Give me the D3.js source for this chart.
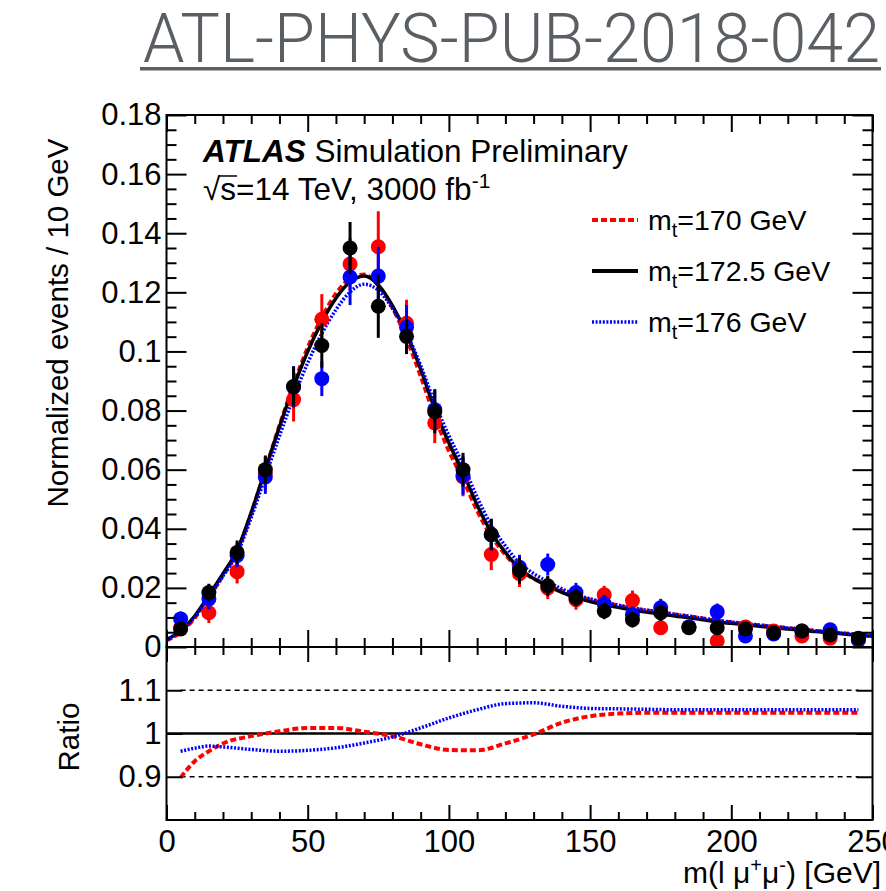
<!DOCTYPE html>
<html>
<head>
<meta charset="utf-8">
<script src="https://cdn.jsdelivr.net/npm/d3@7"></script>
<style>
  html, body { margin: 0; padding: 0; background: #fff; }
  svg text { font-family: "Liberation Sans", Arial, Helvetica, sans-serif; }
</style>
</head>
<body>
<div id="chart"></div>
<script>
// bin centres of the m(l mu+ mu-) histograms
const binCentres = [5, 15, 25, 35, 45, 55, 65, 75, 85, 95, 105, 115, 125, 135, 145, 155, 165, 175, 185, 195, 205, 215, 225, 235, 245];

// mt = 170 GeV
const red = [0.0065, 0.0116, 0.0255, 0.0588, 0.0837, 0.1109, 0.1296, 0.1354, 0.1095, 0.0758, 0.0575, 0.0313, 0.0248, 0.0200, 0.0160, 0.0177, 0.0157, 0.0065, 0.0068, 0.0020, 0.0068, 0.0054, 0.0037, 0.0030, 0.0024];
const redErr = [0.002, 0.0035, 0.004, 0.0055, 0.0074, 0.0085, 0.0088, 0.012, 0.008, 0.0068, 0.0065, 0.0053, 0.0045, 0.0038, 0.0034, 0.003, 0.0034, 0.0022, 0.0022, 0.0015, 0.0022, 0.002, 0.0018, 0.0016, 0.0014];
// mt = 172.5 GeV
const black = [0.0061, 0.0184, 0.0320, 0.0600, 0.0881, 0.1020, 0.1350, 0.1153, 0.1051, 0.0796, 0.0600, 0.0381, 0.0259, 0.0207, 0.0167, 0.0122, 0.0092, 0.0116, 0.0065, 0.0065, 0.0061, 0.0048, 0.0054, 0.0041, 0.0030];
const blackErr = [0.002, 0.003, 0.004, 0.0048, 0.0068, 0.0075, 0.0088, 0.0107, 0.006, 0.0073, 0.0057, 0.0053, 0.0045, 0.0034, 0.003, 0.0028, 0.0026, 0.0028, 0.0022, 0.0022, 0.0022, 0.002, 0.002, 0.0018, 0.0016];
// mt = 176 GeV
const blue = [0.0095, 0.0163, 0.0310, 0.0575, 0.0880, 0.0908, 0.1252, 0.1255, 0.1082, 0.0803, 0.0580, 0.0380, 0.0270, 0.0279, 0.0184, 0.0146, 0.0109, 0.0133, 0.0068, 0.0119, 0.0037, 0.0044, 0.0054, 0.0058, 0.0024];
const blueErr = [0.0025, 0.0035, 0.004, 0.0057, 0.007, 0.0059, 0.0095, 0.0098, 0.0075, 0.007, 0.0065, 0.0053, 0.0042, 0.0037, 0.0033, 0.003, 0.0028, 0.003, 0.002, 0.0028, 0.0016, 0.0018, 0.0022, 0.0022, 0.0014];

// fitted template for mt = 172.5 GeV
const fitX = [0, 5, 10, 15, 20, 25, 30, 35, 40, 45, 50, 55, 60, 65, 70, 75, 80, 85, 90, 95, 100, 105, 110, 115, 120, 125, 130, 135, 140, 145, 150, 155, 160, 165, 170, 175, 180, 185, 190, 195, 200, 205, 210, 215, 220, 225, 230, 235, 240, 245, 250];
const fitBlack = [0.0025, 0.0055, 0.0105, 0.0175, 0.0248, 0.0327, 0.0455, 0.0600, 0.0745, 0.0880, 0.1000, 0.1100, 0.1180, 0.1235, 0.1255, 0.1225, 0.1155, 0.1060, 0.0940, 0.0805, 0.0690, 0.0590, 0.0480, 0.0388, 0.0320, 0.0265, 0.0232, 0.0207, 0.0185, 0.0167, 0.0154, 0.0143, 0.0134, 0.0125, 0.0118, 0.0112, 0.0105, 0.0099, 0.0092, 0.0085, 0.0080, 0.0075, 0.0070, 0.0066, 0.0061, 0.0057, 0.0052, 0.0048, 0.0044, 0.0040, 0.0037];

// template ratios to mt = 172.5 GeV
const ratioX = [5, 10, 15, 20, 30, 40, 50, 60, 70, 80, 90, 100, 110, 120, 130, 140, 150, 160, 170, 180, 200, 220, 245];
const ratioRed = [0.898, 0.936, 0.959, 0.977, 0.994, 1.005, 1.013, 1.013, 1.004, 0.994, 0.975, 0.962, 0.961, 0.977, 0.998, 1.025, 1.040, 1.046, 1.048, 1.048, 1.048, 1.048, 1.048];
const ratioBlue = [0.959, 0.966, 0.971, 0.969, 0.963, 0.959, 0.961, 0.967, 0.978, 0.992, 1.013, 1.036, 1.055, 1.069, 1.071, 1.063, 1.058, 1.057, 1.056, 1.055, 1.055, 1.055, 1.055];

const legendLabels = ["170", "172.5", "176"];
const xTicks = [0, 50, 100, 150, 200, 250];
const yTicks = [0, 0.02, 0.04, 0.06, 0.08, 0.1, 0.12, 0.14, 0.16, 0.18];
const ratioTicks = [0.9, 1, 1.1];

const W = 886, H = 891;
const FONT = 31;
const svg = d3.select("#chart").append("svg")
    .attr("width", W)
    .attr("height", H)
    .style("display", "block");

svg.append("rect").attr("width", W).attr("height", H).attr("fill", "#fff");

const x = d3.scaleLinear().domain([0, 250]).range([166.5, 872.5]);
const y = d3.scaleLinear().domain([0, 0.18]).range([647, 115]);
const yr = d3.scaleLinear().domain([0.8, 1.2]).range([820, 647]);

const left = x.range()[0], right = x.range()[1];

// title banner
svg.append("text")
    .attr("x", 143)
    .attr("y", 62)
    .attr("textLength", 737)
    .attr("lengthAdjust", "spacingAndGlyphs")
    .style("font-family", "Roboto, sans-serif")
    .style("font-weight", 300)
    .style("font-size", "68px")
    .attr("fill", "#5a5f64")
    .text("ATL-PHYS-PUB-2018-042");
svg.append("rect")
    .attr("x", 140).attr("y", 67).attr("width", 741).attr("height", 3.5)
    .attr("fill", "#5a5f64");

// clip for upper pad
svg.append("clipPath").attr("id", "clipTop")
    .append("rect").attr("x", left).attr("y", 115)
    .attr("width", right - left).attr("height", 647 - 115);

const ratioRedAt = d3.scaleLinear().domain(ratioX).range(ratioRed).clamp(true);
const ratioBlueAt = d3.scaleLinear().domain(ratioX).range(ratioBlue).clamp(true);

const fitPts = fitX.map((v, i) => ({ x: v, b: fitBlack[i], r: fitBlack[i] * ratioRedAt(v), u: fitBlack[i] * ratioBlueAt(v) }));

const curveTop = key => d3.line()
    .x(d => x(d.x))
    .y(d => y(d[key]))
    .curve(d3.curveMonotoneX);

const gTop = svg.append("g").attr("clip-path", "url(#clipTop)");

gTop.append("path").datum(fitPts)
    .attr("d", curveTop("r"))
    .attr("fill", "none").attr("stroke", "#ff0000").attr("stroke-width", 4)
    .attr("stroke-dasharray", "6,3");
gTop.append("path").datum(fitPts)
    .attr("d", curveTop("b"))
    .attr("fill", "none").attr("stroke", "#000").attr("stroke-width", 3.5);
gTop.append("path").datum(fitPts)
    .attr("d", curveTop("u"))
    .attr("fill", "none").attr("stroke", "#0000ff").attr("stroke-width", 3.5)
    .attr("stroke-dasharray", "2,1.6");

// points with error bars
const series = [
    { vals: red, errs: redErr, color: "#ff0000" },
    { vals: blue, errs: blueErr, color: "#0000ff" },
    { vals: black, errs: blackErr, color: "#000000" }
];

series.forEach(s => {
    const pts = binCentres.map((c, i) => ({ c, v: s.vals[i], e: s.errs[i] }));
    const g = gTop.append("g");
    g.selectAll("line")
        .data(pts)
        .join("line")
        .attr("x1", d => x(d.c)).attr("x2", d => x(d.c))
        .attr("y1", d => y(d.v - d.e)).attr("y2", d => y(d.v + d.e))
        .attr("stroke", s.color).attr("stroke-width", 3);
    g.selectAll("circle")
        .data(pts)
        .join("circle")
        .attr("cx", d => x(d.c))
        .attr("cy", d => y(d.v))
        .attr("r", 7.5)
        .attr("fill", s.color);
});

// upper pad axes
function styleAxis(g, labels) {
    g.select(".domain").remove();
    g.selectAll(".tick line").attr("stroke", "#000").attr("stroke-width", 2);
    if (labels) {
        g.selectAll(".tick text")
            .attr("fill", "#000")
            .style("font-size", FONT + "px")
            .style("font-family", "'Liberation Sans', Arial, sans-serif");
    } else {
        g.selectAll(".tick text").remove();
    }
}

const yMinor = d3.range(0, 0.1801, 0.005).filter(v => Math.abs(Math.round(v / 0.02) * 0.02 - v) > 1e-6);
const xMinor = d3.range(0, 251, 10).filter(v => v % 50 !== 0);

svg.append("g").attr("transform", `translate(${left},0)`)
    .call(d3.axisLeft(y).tickValues(yTicks).tickSize(-20).tickPadding(5)
        .tickFormat(d => d === 0 ? "0" : d3.format("")(+d.toFixed(2))))
    .call(g => styleAxis(g, true));
svg.append("g").attr("transform", `translate(${left},0)`)
    .call(d3.axisLeft(y).tickValues(yMinor).tickSize(-10))
    .call(g => styleAxis(g, false));
svg.append("g").attr("transform", `translate(${right},0)`)
    .call(d3.axisRight(y).tickValues(yTicks).tickSize(-20))
    .call(g => styleAxis(g, false));
svg.append("g").attr("transform", `translate(${right},0)`)
    .call(d3.axisRight(y).tickValues(yMinor).tickSize(-10))
    .call(g => styleAxis(g, false));
svg.append("g").attr("transform", "translate(0,647)")
    .call(d3.axisBottom(x).tickValues(xTicks).tickSize(-17))
    .call(g => styleAxis(g, false));
svg.append("g").attr("transform", "translate(0,647)")
    .call(d3.axisBottom(x).tickValues(xMinor).tickSize(-9))
    .call(g => styleAxis(g, false));
svg.append("g").attr("transform", "translate(0,115)")
    .call(d3.axisTop(x).tickValues(xTicks).tickSize(-17))
    .call(g => styleAxis(g, false));
svg.append("g").attr("transform", "translate(0,115)")
    .call(d3.axisTop(x).tickValues(xMinor).tickSize(-9))
    .call(g => styleAxis(g, false));

svg.append("rect")
    .attr("x", left).attr("y", 115)
    .attr("width", right - left).attr("height", 647 - 115)
    .attr("fill", "none").attr("stroke", "#000").attr("stroke-width", 2);

// lower (ratio) pad
const gRat = svg.append("g");
ratioTicks.forEach(t => {
    gRat.append("line")
        .attr("x1", t === 1 ? left : x(5)).attr("x2", t === 1 ? right : x(245))
        .attr("y1", yr(t)).attr("y2", yr(t))
        .attr("stroke", "#000")
        .attr("stroke-width", t === 1 ? 2.5 : 1.5)
        .attr("stroke-dasharray", t === 1 ? null : "5,4");
});

const ratioLine = vals => d3.line()
    .x((d, i) => x(ratioX[i]))
    .y(d => yr(d))
    .curve(d3.curveMonotoneX)(vals);

gRat.append("path")
    .attr("d", ratioLine(ratioRed))
    .attr("fill", "none").attr("stroke", "#ff0000").attr("stroke-width", 4)
    .attr("stroke-dasharray", "6,3");
gRat.append("path")
    .attr("d", ratioLine(ratioBlue))
    .attr("fill", "none").attr("stroke", "#0000ff").attr("stroke-width", 3.5)
    .attr("stroke-dasharray", "2,1.6");

svg.append("g").attr("transform", `translate(${left},0)`)
    .call(d3.axisLeft(yr).tickValues(ratioTicks).tickSize(-16).tickPadding(5)
        .tickFormat(d3.format("")))
    .call(g => styleAxis(g, true));
svg.append("g").attr("transform", `translate(${right},0)`)
    .call(d3.axisRight(yr).tickValues(ratioTicks).tickSize(-16))
    .call(g => styleAxis(g, false));
svg.append("g").attr("transform", "translate(0,820)")
    .call(d3.axisBottom(x).tickValues(xTicks).tickSize(-15).tickPadding(10))
    .call(g => styleAxis(g, true));
svg.append("g").attr("transform", "translate(0,820)")
    .call(d3.axisBottom(x).tickValues(xMinor).tickSize(-8))
    .call(g => styleAxis(g, false));
svg.append("g").attr("transform", "translate(0,647)")
    .call(d3.axisTop(x).tickValues(xTicks).tickSize(-15))
    .call(g => styleAxis(g, false));
svg.append("g").attr("transform", "translate(0,647)")
    .call(d3.axisTop(x).tickValues(xMinor).tickSize(-8))
    .call(g => styleAxis(g, false));

svg.append("rect")
    .attr("x", left).attr("y", 647)
    .attr("width", right - left).attr("height", 820 - 647)
    .attr("fill", "none").attr("stroke", "#000").attr("stroke-width", 2);

// axis titles
svg.append("text")
    .attr("transform", "translate(68,323) rotate(-90)")
    .attr("text-anchor", "middle")
    .style("font-size", "29.5px")
    .text("Normalized events / 10 GeV");
svg.append("text")
    .attr("transform", "translate(79,737) rotate(-90)")
    .attr("text-anchor", "middle")
    .style("font-size", "29.5px")
    .text("Ratio");

const xt = svg.append("text")
    .attr("x", 881)
    .attr("y", 883)
    .attr("text-anchor", "end")
    .style("font-size", "30px");
xt.append("tspan").text("m(l \u03bc");
xt.append("tspan").attr("dy", -11).style("font-size", "20px").text("+");
xt.append("tspan").attr("dy", 11).text("\u03bc");
xt.append("tspan").attr("dy", -11).style("font-size", "20px").text("-");
xt.append("tspan").attr("dy", 11).text(") [GeV]");

// ATLAS label
const atl = svg.append("text").attr("x", 203).attr("y", 162).style("font-size", "31.5px");
atl.append("tspan").style("font-weight", "bold").style("font-style", "italic").text("ATLAS");
atl.append("tspan").text(" Simulation Preliminary");

const sq = svg.append("text").attr("x", 203).attr("y", 200).style("font-size", "31.5px");
sq.append("tspan").text("\u221as=14 TeV, 3000 fb");
sq.append("tspan").attr("dy", -12).style("font-size", "21px").text("-1");
const sNode = sq.select("tspan").node();
const s0 = sNode.getStartPositionOfChar(1).x;
const s1 = sNode.getEndPositionOfChar(1).x;
svg.append("line")
    .attr("x1", s0 - 1).attr("x2", s1 + 1)
    .attr("y1", 176).attr("y2", 176)
    .attr("stroke", "#000").attr("stroke-width", 1.5);

// legend
const legendStyles = [
    { color: "#ff0000", width: 4, dash: "6,3" },
    { color: "#000000", width: 4, dash: null },
    { color: "#0000ff", width: 3.5, dash: "2,1.6" }
];
legendLabels.forEach((lab, i) => {
    const ly = 220 + i * 51;
    const st = legendStyles[i];
    svg.append("line")
        .attr("x1", 592).attr("x2", 638)
        .attr("y1", ly).attr("y2", ly)
        .attr("stroke", st.color).attr("stroke-width", st.width)
        .attr("stroke-dasharray", st.dash);
    const t = svg.append("text").attr("x", 648).attr("y", ly + 10).style("font-size", "28.5px");
    t.append("tspan").text("m");
    t.append("tspan").attr("dy", 7).style("font-size", "20px").text("t");
    t.append("tspan").attr("dy", -7).text("=" + lab + " GeV");
});
</script>
</body>
</html>
